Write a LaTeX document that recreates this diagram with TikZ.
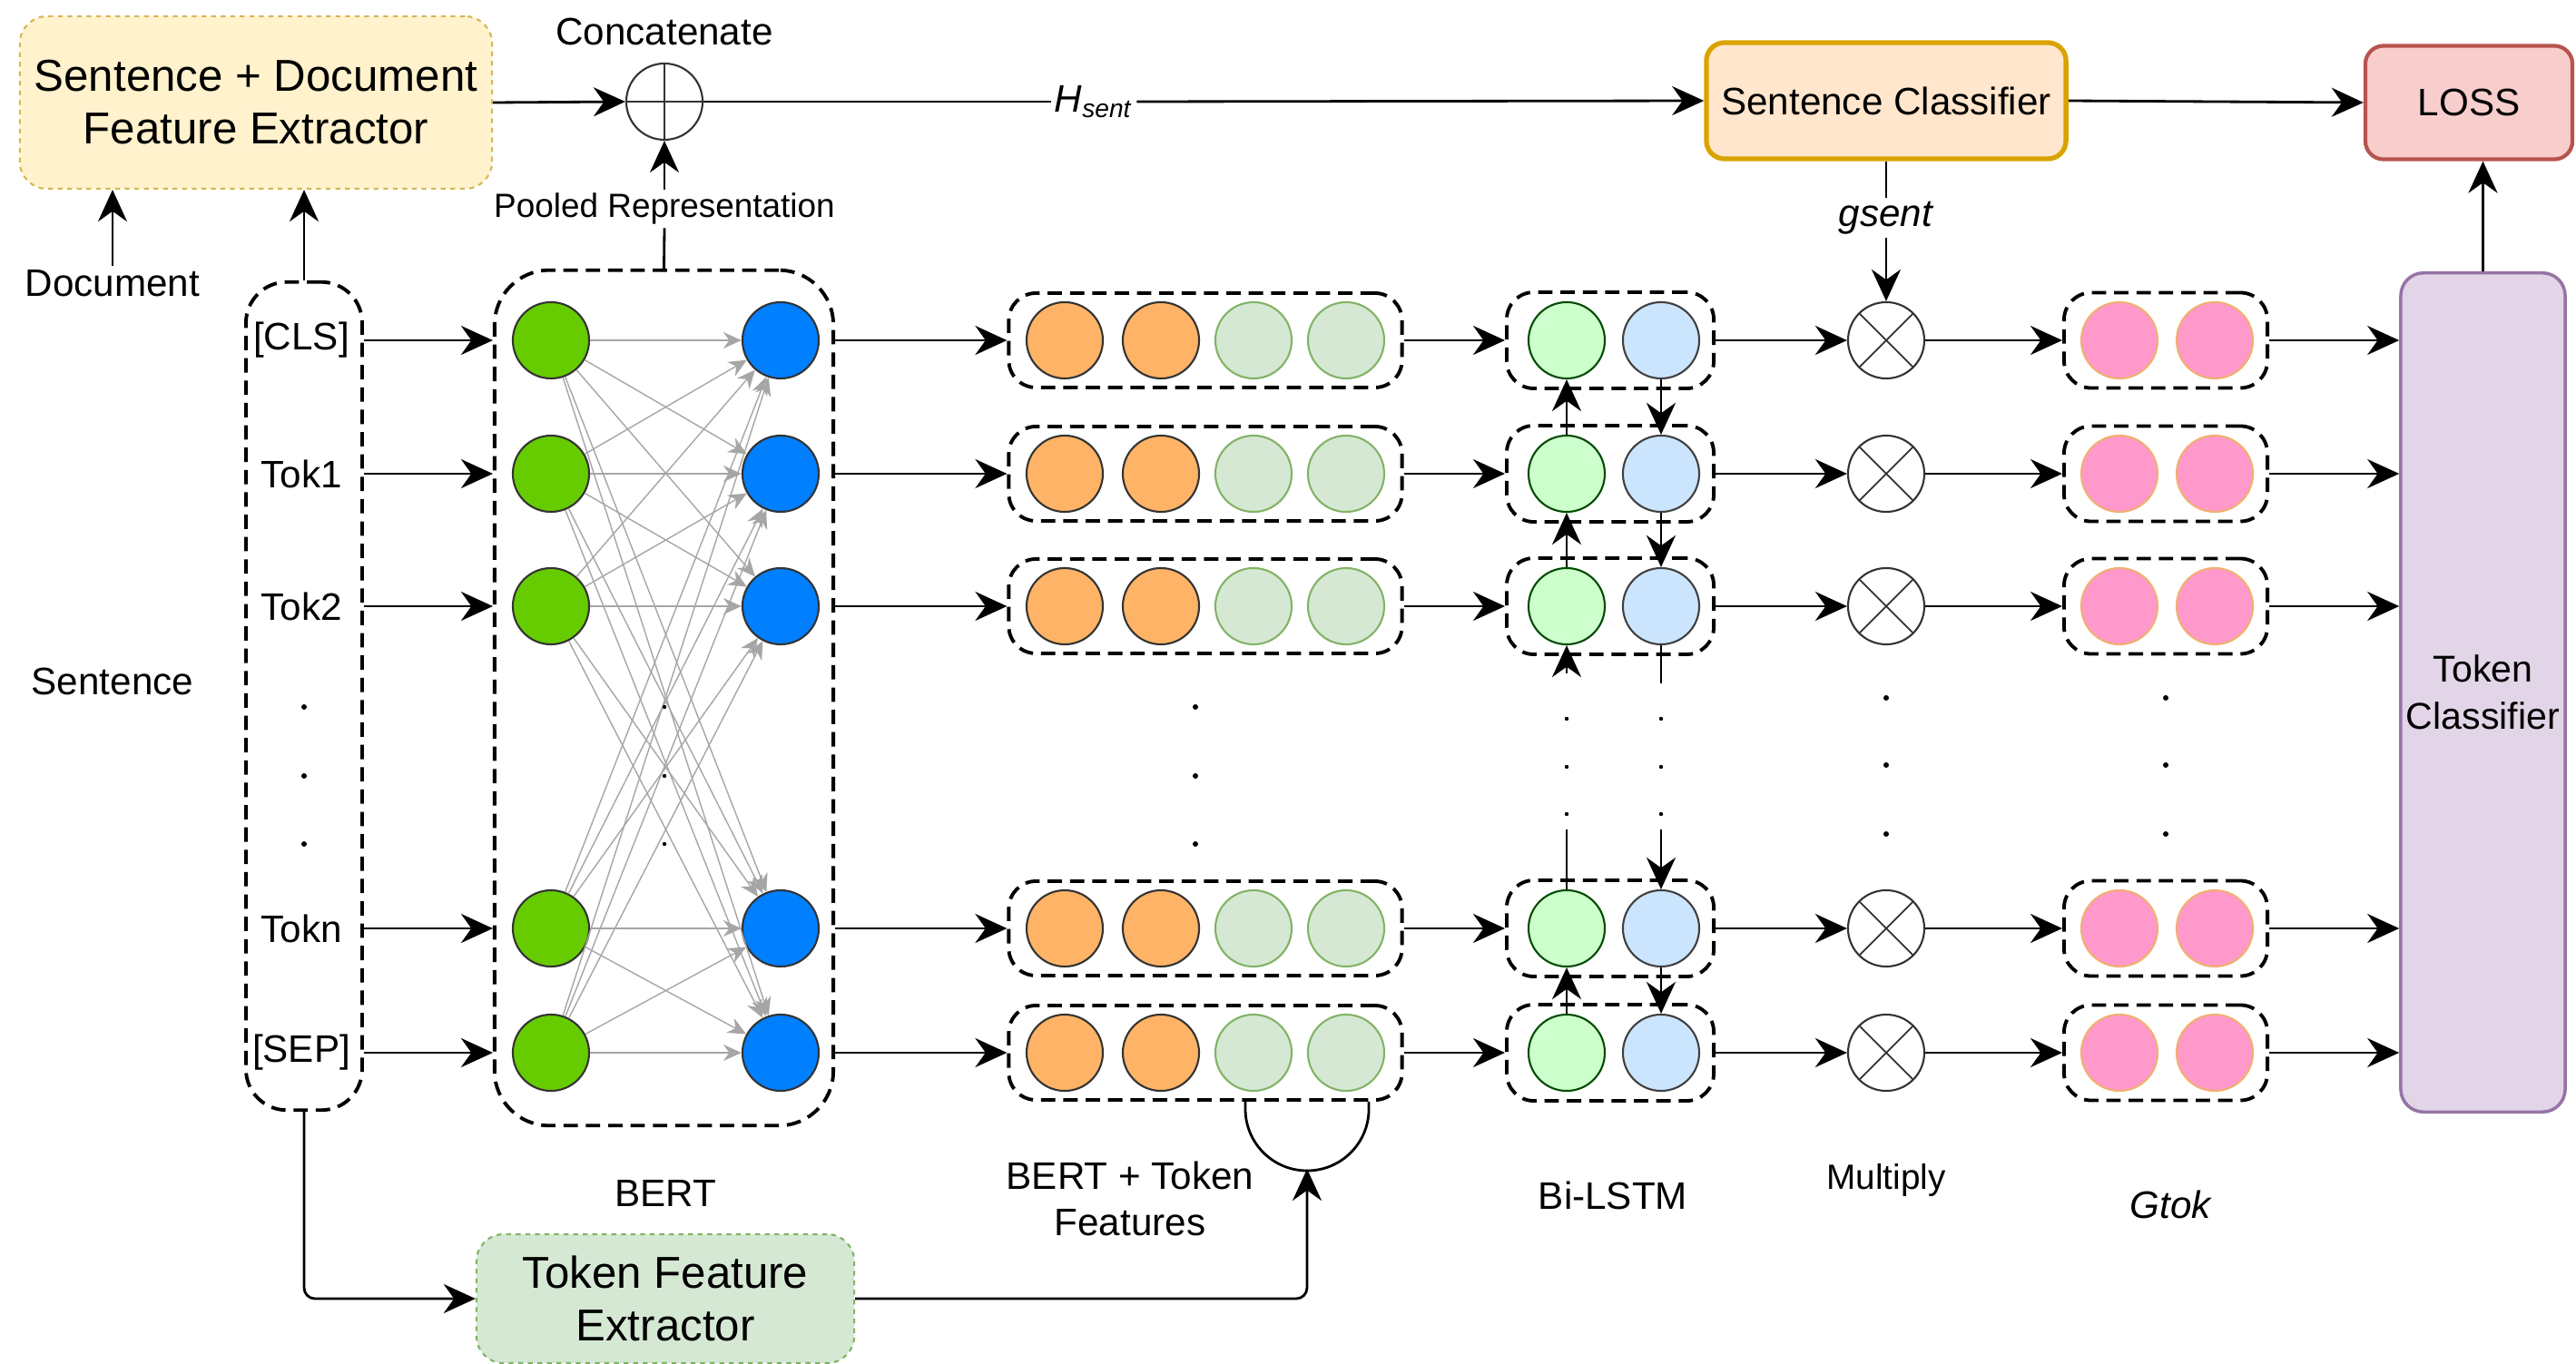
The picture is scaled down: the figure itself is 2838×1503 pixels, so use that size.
\documentclass[tikz,border=0pt]{standalone}
\usepackage{fontspec}
\setmainfont{Liberation Sans}
\usetikzlibrary{arrows.meta,positioning,calc}
\definecolor{docfill}{HTML}{FFF2CC}
\definecolor{docline}{HTML}{D6B656}
\definecolor{clsfill}{HTML}{FFE6CC}
\definecolor{clsline}{HTML}{D9A300}
\definecolor{lossfill}{HTML}{F8CECC}
\definecolor{lossline}{HTML}{B85450}
\definecolor{tokfill}{HTML}{E1D5E7}
\definecolor{tokline}{HTML}{9673A6}
\definecolor{featfill}{HTML}{D5E8D4}
\definecolor{featline}{HTML}{82B366}
\definecolor{bertin}{HTML}{66CC00}
\definecolor{bertout}{HTML}{007FFF}
\definecolor{orangecell}{HTML}{FFB366}
\definecolor{fwcell}{HTML}{CCFFCC}
\definecolor{bwcell}{HTML}{CCE5FF}
\definecolor{gatecell}{HTML}{FF99CC}
\definecolor{gateline}{HTML}{F0B070}

\tikzset{
  lbl/.style={font=\fontsize{12}{14.5}\selectfont, inner sep=1pt, align=center},
  biglbl/.style={font=\fontsize{14}{16.5}\selectfont, align=center},
  arr/.style={-{Stealth[length=3.5mm,width=3.2mm]}, line width=0.8pt},
  link/.style={line width=0.8pt},
  netline/.style={black!35, line width=0.4pt, -{Stealth[length=2mm,width=1.8mm]}},
  cont/.style={draw, line width=1.1pt, dash pattern=on 4.5pt off 2.5pt, rounded corners=0.3cm},
  cell/.style={circle, draw=black!80, minimum size=0.84cm, inner sep=0pt, line width=0.6pt},
  opnode/.style={circle, draw=black!80, minimum size=0.84cm, inner sep=0pt, line width=0.6pt},
  plusop/.style={opnode, path picture={\draw[line width=0.5pt] (path picture bounding box.north) -- (path picture bounding box.south) (path picture bounding box.west) -- (path picture bounding box.east);}},
  timesop/.style={opnode, path picture={\draw[line width=0.5pt] (path picture bounding box.north west) -- (path picture bounding box.south east) (path picture bounding box.north east) -- (path picture bounding box.south west);}},
  dotpt/.style={radius=0.03cm}
}

\begin{document}
\begin{tikzpicture}[x=0.01cm,y=-0.01cm]
  \fill[white] (0,0) rectangle (2838,1503);
  \useasboundingbox (0,0) rectangle (2838,1503);

  % top row
  \node[biglbl, draw=docline, fill=docfill, line width=0.6pt, dash pattern=on 1.5pt off 1.5pt, rounded corners=0.3cm, minimum width=5.2cm, minimum height=1.9cm] (sdfe) at (282,113) {Sentence + Document\\Feature Extractor};
  \node[plusop] (concat) at (732,112) {};
  \node[lbl] (concatlbl) at (732,35) {Concatenate};
  \node[lbl, draw=clsline, fill=clsfill, line width=1.5pt, rounded corners=0.2cm, minimum width=3.96cm, minimum height=1.28cm] (sentcls) at (2078,111) {Sentence Classifier};
  \node[lbl, draw=lossline, fill=lossfill, line width=1.2pt, rounded corners=0.2cm, minimum width=2.28cm, minimum height=1.25cm] (loss) at (2720,113) {LOSS};
  \node[lbl, fill=white] (hsent) at (1205,112) {\textit{H}\textsubscript{\textit{sent}}};
  \draw[arr] (sdfe.east) -- (concat.west);
  \draw[link] (concat.east) -- (hsent.west);
  \draw[arr] (hsent.east) -- (sentcls.west);
  \draw[arr] (sentcls.east) -- (loss.west);
  \node[lbl, fill=white] (gsent) at (2078,240) {\textit{gsent}};

  % left side
  \node[lbl] (doc) at (124,312) {Document};
  \node[lbl] (sent) at (124,751) {Sentence};
  \node[cont, rounded corners=0.45cm, minimum width=1.28cm, minimum height=9.12cm] (inbox) at (335,767) {};
  \node[cont, rounded corners=0.6cm, minimum width=3.73cm, minimum height=9.42cm] (bertbox) at (731.5,769) {};
  \node[lbl, font=\fontsize{10.5}{12}\selectfont] (pooled) at (732,230) {Pooled Representation};
  \draw[arr] (doc.north) -- (doc.north |- sdfe.south);
  \draw[arr] (inbox.north) -- (inbox.north |- sdfe.south);
  \draw[link] (bertbox.north) -- (pooled.south);
  \draw[arr] (pooled.north) -- (concat.south);

  % rows
  \foreach \y/\t [count=\i] in {375/{[CLS]}, 522/Tok1, 668/Tok2, 1023/Tokn, 1160/{[SEP]}} {
    \node[lbl] (tok\i) at (332,\y) {\t};
    \node[cell, fill=bertin] (bin\i) at (607,\y) {};
    \node[cell, fill=bertout] (bout\i) at (860,\y) {};
    \node[cont, minimum width=4.33cm, minimum height=1.04cm] (ftbox\i) at (1328,\y) {};
    \node[cell, fill=orangecell] (fa\i) at (1173,\y) {};
    \node[cell, fill=orangecell] (fb\i) at (1279,\y) {};
    \node[cell, fill=featfill, draw=featline] (fc\i) at (1381,\y) {};
    \node[cell, fill=featfill, draw=featline] (fd\i) at (1483,\y) {};
    \node[cont, minimum width=2.28cm, minimum height=1.06cm] (lstm\i) at (1774,\y) {};
    \node[cell, fill=fwcell, draw=black!70!green] (fw\i) at (1726,\y) {};
    \node[cell, fill=bwcell, draw=black!75] (bw\i) at (1830,\y) {};
    \node[timesop] (mul\i) at (2078,\y) {};
    \node[cont, minimum width=2.24cm, minimum height=1.05cm] (gtok\i) at (2386,\y) {};
    \node[cell, fill=gatecell, draw=gateline] (pa\i) at (2335,\y) {};
    \node[cell, fill=gatecell, draw=gateline] (pb\i) at (2440,\y) {};
  }
  \node[lbl, draw=tokline, fill=tokfill, line width=1pt, rounded corners=0.25cm, inner sep=0pt, minimum width=1.81cm, minimum height=9.24cm, font=\fontsize{11.7}{14.8}\selectfont] (tokcls) at (2735.5,763) {Token\\Classifier};

  % BERT connections
  \foreach \i in {1,...,5} {
    \foreach \j in {1,...,5} {
      \draw[netline] (bin\i) -- (bout\j);
    }
  }

  % row arrows
  \foreach \i in {1,...,5} {
    \draw[arr] (inbox.east |- tok\i) -- (bertbox.west |- tok\i);
    \draw[arr] (bertbox.east |- bout\i) -- (ftbox\i.west);
    \draw[arr] (ftbox\i.east) -- (lstm\i.west);
    \draw[arr] (lstm\i.east) -- (mul\i.west);
    \draw[arr] (mul\i.east) -- (gtok\i.west);
    \draw[arr] (gtok\i.east) -- (tokcls.west |- gtok\i);
  }

  % Bi-LSTM chain
  \foreach \i/\j in {1/2, 2/3, 4/5} {
    \draw[arr] (fw\j) -- (fw\i);
    \draw[arr] (bw\i) -- (bw\j);
  }
  \coordinate (fwlow) at (1726,742);
  \coordinate (bwlow) at (1830,753);
  \coordinate (fwhigh) at (1726,914);
  \coordinate (bwhigh) at (1830,914);
  \draw[arr] (fwlow) -- (fw3);
  \draw[link] (bw3) -- (bwlow);
  \draw[link] (fw4) -- (fwhigh);
  \draw[arr] (bwhigh) -- (bw4);

  % sentence gate
  \draw[link] (sentcls.south) -- (gsent.north);
  \draw[arr] (gsent.south) -- (mul1.north);
  \draw[arr] (tokcls.north) -- (tokcls.north |- loss.south);

  % dots
  \foreach \y in {779,855,930} {
    \fill (335,\y) circle[dotpt];
    \fill (732,\y) circle[radius=0.022cm];
    \fill (1317,\y) circle[dotpt];
  }
  \foreach \y in {792,845,897} {
    \fill (1726,\y) circle[radius=0.022cm];
    \fill (1830,\y) circle[radius=0.022cm];
  }
  \foreach \y in {769,843,919} {
    \fill (2078,\y) circle[dotpt];
    \fill (2386,\y) circle[dotpt];
  }

  % token features
  \node[biglbl, draw=featline, fill=featfill, line width=0.6pt, dash pattern=on 1.5pt off 1.5pt, rounded corners=0.3cm, minimum width=4.16cm, minimum height=1.42cm] (tfe) at (733,1431) {Token Feature\\Extractor};
  \coordinate (ubot) at (1440,1288);
  \draw[link] ($(ftbox5.south)+(44,0)$) -- ++(0,8) arc[start angle=180, end angle=360, radius=0.68cm] -- ++(0,-8);
  \draw[arr, rounded corners=0.12cm] (inbox.south) |- (tfe.west);
  \draw[arr, rounded corners=0.12cm] (tfe.east) -| (ubot);

  % bottom labels
  \node[lbl] (bertlbl) at (733,1315) {BERT};
  \node[lbl] (btflbl) at (1245,1321) {BERT + Token\\Features};
  \node[lbl] (lstmlbl) at (1777,1317) {Bi-LSTM};
  \node[lbl, font=\fontsize{11}{13}\selectfont] (mullbl) at (2078,1300) {Multiply};
  \node[lbl] (gtoklbl) at (2392,1327) {\textit{Gtok}};
\end{tikzpicture}
\end{document}
